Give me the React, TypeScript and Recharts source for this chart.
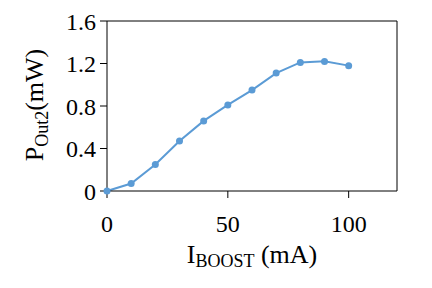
import { LineChart, Line, XAxis, YAxis, ReferenceLine, Label } from 'recharts';

const boostCurrent = [0, 10, 20, 30, 40, 50, 60, 70, 80, 90, 100];
const pOut2 = [0.0, 0.07, 0.25, 0.47, 0.66, 0.81, 0.95, 1.11, 1.21, 1.22, 1.18];
const xTicks = [0, 50, 100];
const yTicks = [0, 0.4, 0.8, 1.2, 1.6];

const chartData = boostCurrent.map((x, i) => ({ x, p: pOut2[i] }));

const FONT = '"Liberation Serif", "Times New Roman", serif';

const App = () => {
  return (
    <div style={{ position: 'absolute', left: 0, top: 0, width: 432, height: 288, background: '#fff' }}>
      <LineChart width={432} height={288} data={chartData} margin={{ top: 21, right: 35, left: 0, bottom: 0 }}>
        <XAxis
          dataKey="x"
          type="number"
          domain={[0, 120]}
          ticks={xTicks}
          height={97}
          stroke="#000"
          tickSize={7}
          tickMargin={17}
          tick={{ fill: '#000', fontSize: 24, fontFamily: FONT }}
        >
          <Label
            content={() => (
              <text x={252} y={263} textAnchor="middle" fill="#000" fontFamily={FONT} fontSize={26}>
                I
                <tspan fontSize={18} dy={4}>BOOST</tspan>
                <tspan dy={-4}> (mA)</tspan>
              </text>
            )}
          />
        </XAxis>
        <YAxis
          type="number"
          domain={[0, 1.6]}
          ticks={yTicks}
          width={107}
          stroke="#000"
          tickSize={7}
          tickMargin={4}
          tick={{ fill: '#000', fontSize: 24, fontFamily: FONT }}
          tickFormatter={(v: number) => (v === 0 ? '0' : v.toFixed(1))}
        >
          <Label
            content={() => (
              <text
                x={43}
                y={105}
                transform="rotate(-90, 43, 105)"
                textAnchor="middle"
                fill="#000"
                fontFamily={FONT}
                fontSize={26}
              >
                P
                <tspan fontSize={18} dy={5}>Out2</tspan>
                <tspan dy={-5}>(mW)</tspan>
              </text>
            )}
          />
        </YAxis>
        <ReferenceLine y={1.6} stroke="#000" strokeWidth={1} />
        <ReferenceLine x={120} stroke="#000" strokeWidth={1} />
        <Line
          type="linear"
          dataKey="p"
          stroke="#5B9BD5"
          strokeWidth={2}
          dot={{ r: 3.5, fill: '#5B9BD5', stroke: '#5B9BD5', strokeWidth: 0 }}
          isAnimationActive={false}
        />
      </LineChart>
    </div>
  );
};

export default App;
